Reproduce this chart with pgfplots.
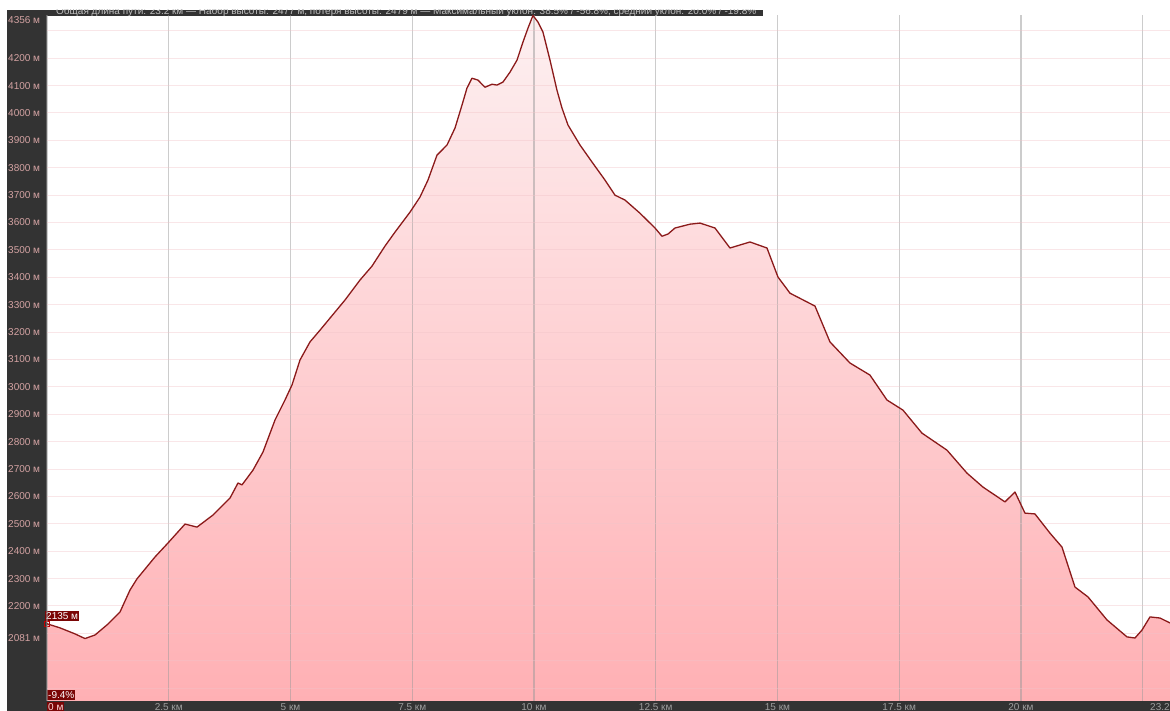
\documentclass[border=0pt]{standalone}
\usepackage{fontspec}
\setmainfont{Liberation Sans}
\usepackage{pgfplots}
\usepackage{pgfplotstable}
\pgfplotsset{compat=1.18}
\definecolor{panel}{HTML}{333333}
\definecolor{ylab}{HTML}{D4A3A3}
\definecolor{xlab}{HTML}{9E9E9E}
\definecolor{hdr}{HTML}{BDBDBD}
\definecolor{prof}{HTML}{8B1A1A}
\definecolor{tagbg}{HTML}{7A0606}
\definecolor{fillTop}{HTML}{FDF0F1}
\definecolor{fillBot}{HTML}{FFB0B4}
\definecolor{hgrid}{HTML}{F2C4C9}
\definecolor{vgrid}{HTML}{9A9A9A}

\pgfplotstableread{
km elev
0.000 2135
0.267 2120
0.575 2098
0.780 2081
0.986 2094
1.253 2134
1.499 2178
1.704 2258
1.848 2299
2.218 2379
2.485 2430
2.834 2499
3.080 2488
3.409 2532
3.758 2594
3.922 2649
4.004 2642
4.230 2696
4.435 2762
4.682 2879
4.887 2952
5.031 3007
5.195 3098
5.400 3164
5.606 3207
5.811 3251
6.119 3317
6.427 3390
6.674 3441
6.940 3514
7.146 3565
7.454 3638
7.659 3693
7.823 3755
8.008 3846
8.214 3883
8.378 3945
8.522 4029
8.624 4091
8.727 4127
8.850 4120
8.994 4094
9.138 4105
9.240 4102
9.363 4113
9.507 4149
9.651 4193
9.774 4259
9.877 4310
9.979 4356
10.082 4332
10.185 4295
10.329 4193
10.472 4083
10.575 4018
10.698 3956
10.945 3883
11.191 3821
11.458 3755
11.663 3700
11.869 3682
12.177 3634
12.485 3580
12.628 3550
12.752 3558
12.895 3580
13.203 3594
13.409 3598
13.717 3580
14.025 3507
14.435 3529
14.784 3507
15.010 3401
15.257 3342
15.770 3295
16.078 3164
16.489 3087
16.899 3043
17.248 2952
17.577 2915
17.967 2831
18.480 2769
18.891 2685
19.220 2634
19.671 2580
19.877 2616
20.082 2539
20.287 2536
20.595 2466
20.842 2415
21.109 2269
21.376 2233
21.766 2149
22.177 2087
22.341 2083
22.485 2112
22.649 2160
22.854 2156
23.060 2138
}\profile

\begin{document}
\begin{tikzpicture}
\fill[white] (0pt,0pt) rectangle (1170pt,711pt);
\fill[panel] (7pt,0pt) rectangle (47pt,701pt);
\fill[panel] (7pt,0pt) rectangle (1170pt,10pt);
\fill[panel] (47pt,695pt) rectangle (763pt,701pt);
\begin{scope}
\clip (47pt,695pt) rectangle (763pt,701pt);
\node[anchor=base west, text=hdr, inner sep=0pt, font=\fontsize{10}{12}\selectfont] at (56pt,696pt)
 {Общая длина пути: 23.2 км — Набор высоты: 2477 м, потеря высоты: 2479 м — Максимальный уклон: 38.5\% / -56.8\%, средний уклон: 20.0\% / -19.8\%};
\end{scope}
\begin{axis}[
  at={(47pt,10pt)}, anchor=south west, scale only axis,
  width=1123pt, height=685.5pt,
  xmin=0, xmax=23.06, ymin=1853, ymax=4356,
  clip=false,
  set layers, axis on top,
  axis line style={draw=none},
  major tick length=0pt,
  xtick={0,2.5,...,22.5},
  xticklabels={,2.5 км,5 км,7.5 км,10 км,12.5 км,15 км,17.5 км,20 км,},
  ytick={1900,2000,...,4300},
  yticklabels={,,,2200 м,2300 м,2400 м,2500 м,2600 м,2700 м,2800 м,2900 м,3000 м,3100 м,3200 м,3300 м,3400 м,3500 м,3600 м,3700 м,3800 м,3900 м,4000 м,4100 м,4200 м,},
  extra y ticks={2081},
  extra y tick labels={2081 м},
  extra y tick style={grid=none},
  grid=major,
  x grid style={vgrid, opacity=0.5, line width=1.4pt},
  y grid style={hgrid, opacity=0.42, line width=1pt},
  yticklabel style={anchor=west, inner sep=0pt, xshift=-39pt, text=ylab, font=\fontsize{10}{12}\selectfont},
  xticklabel style={anchor=north, inner sep=0pt, yshift=-2pt, text=xlab, font=\fontsize{10}{12}\selectfont},
]
\addplot[draw=none, top color=fillTop, bottom color=fillBot] table[x=km, y=elev] {\profile} \closedcycle;
\addplot[prof, line width=1.3pt, line join=round, on layer=axis foreground] table[x=km, y=elev] {\profile};
\addplot[only marks, mark=square, mark size=2.3pt, mark options={draw=red!75!black, line width=0.8pt}, on layer=axis foreground] coordinates {(0,2135)};
\node[anchor=west, inner sep=0pt, text=ylab, font=\fontsize{10}{12}\selectfont, xshift=-39pt] at (axis cs:0,4340) {4356 м};
\node[anchor=south west, fill=tagbg, text=white, inner xsep=1pt, inner ysep=1.5pt, text height=7pt, text depth=0pt, font=\fontsize{10}{12}\selectfont, xshift=-2pt, yshift=3pt] at (axis cs:0,2135) {2135 м};
\node[anchor=south west, fill=tagbg, text=white, inner xsep=1pt, inner ysep=1.5pt, text height=7pt, text depth=0pt, font=\fontsize{10}{12}\selectfont, yshift=1pt] at (axis cs:0,1853) {-9.4\%};
\node[anchor=north west, fill=tagbg, text=white!85!red, inner xsep=1pt, inner ysep=1.5pt, text height=7pt, text depth=0pt, font=\fontsize{10}{12}\selectfont, yshift=-1pt] at (axis cs:0,1853) {0 м};
\node[anchor=north west, inner sep=0pt, text=xlab, font=\fontsize{10}{12}\selectfont, yshift=-2pt] at (axis cs:22.65,1853) {23.2 км};
\end{axis}
\pgfresetboundingbox
\useasboundingbox (0pt,0pt) rectangle (1170pt,711pt);
\end{tikzpicture}
\end{document}
